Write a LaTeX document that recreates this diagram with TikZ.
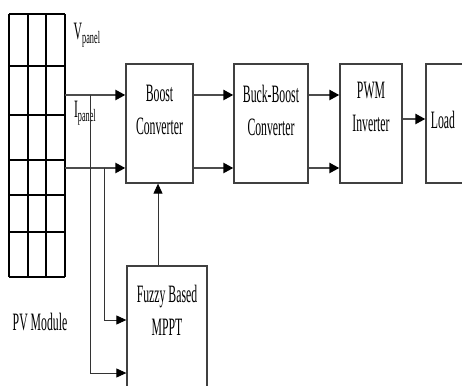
\documentclass[tikz,border=0pt]{standalone}
\usepackage{fontspec}
\setmainfont{Liberation Serif}
\usepackage{graphicx}
\usetikzlibrary{arrows.meta}
\newcommand{\squeeze}[1]{\scalebox{0.47}[1]{#1}}

\begin{document}
\begin{tikzpicture}[x=1pt,y=1pt,
  blk/.style={draw=black!75, line width=1.3pt, minimum width=#1, minimum height=119pt, inner sep=0pt},
  blk/.default=67pt,
  txt/.style={font=\fontsize{25}{33}\selectfont, align=center, inner sep=0pt},
  feed/.style={draw=black!70, line width=2.4pt, -{Triangle[length=10pt,width=10pt,fill=black,color=black]}},
  tap/.style={draw=black!80, line width=0.9pt, -{Triangle[length=10pt,width=9pt,fill=black,color=black]}}]
  % Page frame
  \clip (0,0) rectangle (462,385);
  % PV module grid
  \foreach \x in {9,28,46,65} \draw[line width=1.2pt] (\x,108) -- (\x,371);
  \foreach \y in {371,319,270,225,190,153,108} \draw[line width=1.2pt] (9,\y) -- (65,\y);
  \coordinate (vout) at (65,290);
  \coordinate (iout) at (65,217);
  \node[txt] (pvlabel) at (40,63) {\squeeze{PV Module}};
  % Panel signals
  \node[txt] (vlabel) at (87,350) {\squeeze{V\textsubscript{panel}}};
  \node[txt] (ilabel) at (85,272) {\squeeze{I\textsubscript{panel}}};
  % Blocks
  \node[blk] (boost) at (159.5,261.5) {};
  \node[blk=74pt] (buck) at (271,261.5) {};
  \node[blk=62pt] (pwm) at (371,261.5) {};
  \node[blk=50pt] (load) at (451,261.5) {};
  \node[blk=80pt, minimum height=140pt] (mppt) at (167,49) {};
  % Block texts
  \node[txt] (boosttxt) at (159.5,275) {\squeeze{Boost}\\\squeeze{Converter}};
  \node[txt] (bucktxt) at (271,275) {\squeeze{Buck-Boost}\\\squeeze{Converter}};
  \node[txt] (pwmtxt) at (371,278) {\squeeze{PWM}\\\squeeze{Inverter}};
  \node[txt] (loadtxt) at (443,265) {\squeeze{Load}};
  \node[txt] (mppttxt) at (167,75) {\squeeze{Fuzzy Based}\\\squeeze{MPPT}};
  % Power path
  \draw[feed] (vout) -- (vout -| boost.west);
  \draw[feed] (iout) -- (iout -| boost.west);
  \draw[feed] (boost.east |- vout) -- (buck.west |- vout);
  \draw[feed] (boost.east |- iout) -- (buck.west |- iout);
  \draw[feed] (buck.east |- vout) -- (pwm.west |- vout);
  \draw[feed] (buck.east |- iout) -- (pwm.west |- iout);
  \draw[feed] ([yshift=4.5pt]pwm.east) -- ([yshift=4.5pt]load.west);
  % Sensing taps to MPPT
  \coordinate (vtap) at (90,290);
  \coordinate (itap) at (104,217);
  \draw[tap] (vtap) |- ([yshift=-37pt]mppt.west);
  \draw[tap] (itap) |- ([yshift=16pt]mppt.west);
  % Duty command
  \draw[tap] ([xshift=-9pt]mppt.north) -- ([xshift=-9pt]mppt.north |- boost.south);
\end{tikzpicture}
\end{document}
